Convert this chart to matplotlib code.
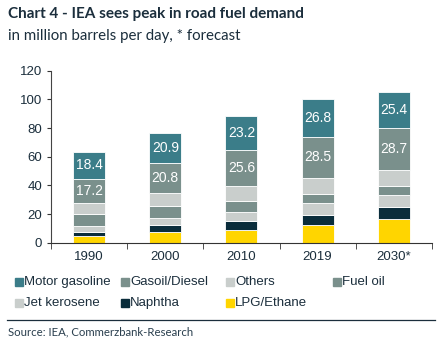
import matplotlib.pyplot as plt
from matplotlib.patches import Rectangle
import numpy as np

years = ['1990', '2000', '2010', '2019', '2030*']

# stacked bottom -> top
lpg = [4.7, 7.2, 9.1, 12.6, 16.3]
naphtha = [3.0, 4.9, 6.2, 6.7, 8.8]
jet = [3.9, 5.3, 6.1, 8.1, 8.2]
fuel_oil = [8.4, 8.2, 7.9, 6.3, 6.5]
others = [7.5, 8.9, 10.1, 11.5, 11.2]
gasoil = [17.2, 20.8, 25.6, 28.5, 28.7]
motor = [18.4, 20.9, 23.2, 26.8, 25.4]

series = [
    ('LPG/Ethane', lpg, '#ffd500'),
    ('Naphtha', naphtha, '#0a2d3b'),
    ('Jet kerosene', jet, '#c9cecc'),
    ('Fuel oil', fuel_oil, '#7a908c'),
    ('Others', others, '#c9cecc'),
    ('Gasoil/Diesel', gasoil, '#7a908c'),
    ('Motor gasoline', motor, '#3b7d89'),
]
labelled = ['Gasoil/Diesel', 'Motor gasoline']

navy = '#1b2e3c'
plt.rcParams['font.family'] = ['Liberation Sans', 'DejaVu Sans']

fig = plt.figure(figsize=(4.42, 3.56), dpi=100)
ax = fig.add_axes([0.1154, 1 - 242.7 / 356, 0.977 - 0.1154, (242.7 - 70.7) / 356])

x = np.arange(len(years))
bottom = np.zeros(len(years))
for name, vals, col in series:
    vals = np.array(vals)
    ax.bar(x, vals, 0.42, bottom=bottom, color=col, edgecolor='white', linewidth=0.6)
    if name in labelled:
        for xi, b, v in zip(x, bottom, vals):
            ax.text(xi, b + v / 2, f'{v:.1f}', ha='center', va='center',
                    color='white', fontsize=10)
    bottom += vals

ax.set_xlim(-0.5, len(years) - 0.5)
ax.set_ylim(0, 120)
ax.set_yticks(range(0, 121, 20))
ax.set_xticks(x)
ax.set_xticklabels(years)
ax.set_xticks(np.arange(len(years) + 1) - 0.5, minor=True)
ax.tick_params(axis='x', which='major', length=0, pad=6, labelsize=9.5, labelcolor=navy)
ax.tick_params(axis='x', which='minor', length=4, direction='out', color='#333333')
ax.tick_params(axis='y', length=3, labelsize=9.5, labelcolor=navy, color='#333333')
for s in ['top', 'right']:
    ax.spines[s].set_visible(False)
ax.spines['left'].set_color('#444444')
ax.spines['bottom'].set_color('#333333')

# title
fig.text(8 / 442, 1 - 14 / 356, 'Chart 4 - IEA sees peak in road fuel demand',
         fontsize=11, fontweight='bold', color=navy, family='Lato', va='center')
fig.text(8 / 442, 1 - 36 / 356, 'in million barrels per day, * forecast',
         fontsize=10.8, color=navy, family='Lato', va='center')

# legend (reverse of stacking, row-wise)
leg_order = ['Motor gasoline', 'Gasoil/Diesel', 'Others', 'Fuel oil',
             'Jet kerosene', 'Naphtha', 'LPG/Ethane']
colors = {n: c for n, _, c in series}
col_x = [15, 121, 226, 333]
row_y = [282, 303]
for i, name in enumerate(leg_order):
    px = col_x[i % 4]
    py = row_y[i // 4]
    fig.add_artist(Rectangle((px / 442, 1 - (py + 4) / 356), 8 / 442, 8 / 356,
                             transform=fig.transFigure, color=colors[name]))
    fig.text((px + 9) / 442, 1 - py / 356, name, fontsize=9.5, color=navy, va='center')

fig.add_artist(plt.Line2D([7 / 442, 435 / 442], [1 - 320 / 356] * 2,
                          transform=fig.transFigure, color=navy, linewidth=0.9))
fig.text(8 / 442, 1 - 332 / 356, 'Source: IEA, Commerzbank-Research',
         fontsize=8.2, color='#2a3f4e', family='Lato', va='center')

fig.savefig('out.png', dpi=100)
